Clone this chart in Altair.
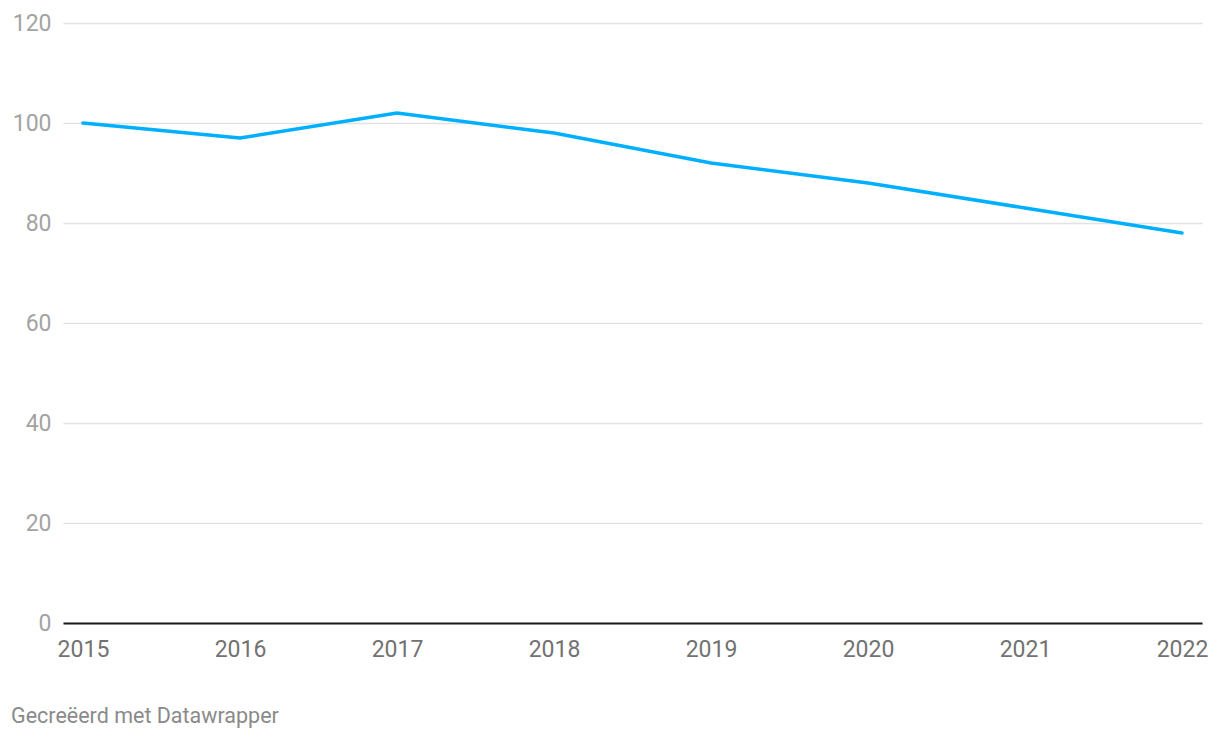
import altair as alt
import pandas as pd

years = [2015, 2016, 2017, 2018, 2019, 2020, 2021, 2022]
values = [100, 97, 102, 98, 92, 88, 83, 78]
y_ticks = [0, 20, 40, 60, 80, 100, 120]
credit = "Gecreëerd met Datawrapper"

df = pd.DataFrame({"year": years, "value": values})

W, H = 1139, 600
pad_years = 20 / (1100 / 7)

base = alt.Chart(df)

line = base.mark_line(color="#00b0ff", strokeWidth=3.5, strokeCap="round", strokeJoin="round").encode(
    x=alt.X(
        "year:Q",
        scale=alt.Scale(domain=[years[0] - pad_years, years[-1] + pad_years], nice=False, zero=False),
        axis=alt.Axis(
            values=years, format="d", title=None, grid=False, ticks=False,
            domain=True, domainColor="#1a1a1a", domainWidth=2,
            labelFont="Roboto", labelFontSize=23, labelColor="#727272",
            labelPadding=15, labelFlush=False,
        ),
    ),
    y=alt.Y(
        "value:Q",
        scale=alt.Scale(domain=[0, 120], nice=False),
        axis=alt.Axis(
            values=y_ticks, title=None, ticks=False, domain=False,
            grid=True, gridColor="#e2e2e2", gridWidth=1.5,
            labelFont="Roboto", labelFontSize=23, labelColor="#a3a3a3",
            labelPadding=12,
        ),
    ),
)

credit_text = alt.Chart(pd.DataFrame({"t": [credit]})).mark_text(
    font="Roboto", fontSize=21.5, color="#8a8a8a", align="left", baseline="alphabetic"
).encode(
    text="t:N",
    x=alt.value(-52),
    y=alt.value(700),
)

chart = alt.layer(line, credit_text).properties(
    width=W,
    height=H,
    autosize=alt.AutoSizeParams(type="none"),
    padding={"left": 55, "top": 15, "right": 10, "bottom": 110},
    view=alt.ViewBackground(stroke="transparent", strokeWidth=0),
).configure_view(strokeWidth=0, stroke="transparent").configure_axisX(grid=False).configure(background="white")

chart.save("out.html", embed_options={"renderer": "svg", "actions": False})
